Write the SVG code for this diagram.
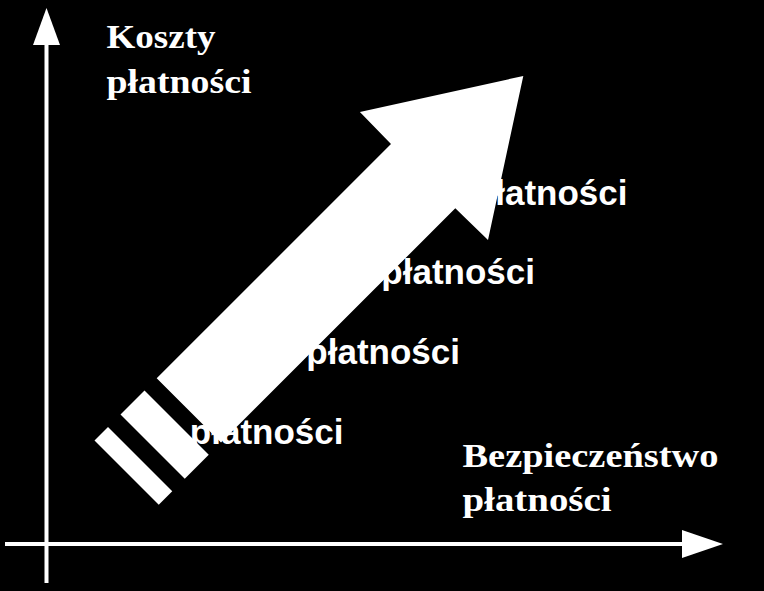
<svg xmlns="http://www.w3.org/2000/svg" width="764" height="591" viewBox="0 0 764 591">
<style>
.ax{stroke:#fff;stroke-width:4;fill:none}
.head{fill:#fff}
.serif{font-family:"Liberation Serif","Times New Roman",serif;font-weight:bold;font-size:34px;fill:#fff}
.sans{font-family:"Liberation Sans",Arial,sans-serif;font-weight:bold;font-size:35px;fill:#fff;text-anchor:end}
.shape{fill:#fff}
</style>
<rect x="0" y="0" width="764" height="591" fill="#000"/>
<g id="connectors">
  <g id="axis-y">
    <line class="ax" x1="46.5" y1="583" x2="46.5" y2="44"/>
    <polygon class="head" points="46.5,8 60,45 33,45"/>
  </g>
  <g id="axis-x">
    <line class="ax" x1="5" y1="544" x2="683" y2="544"/>
    <polygon class="head" points="723,544 682,530 682,558"/>
  </g>
</g>
<g id="label-koszty">
  <text class="serif" x="106.5" y="47.5" textLength="109" lengthAdjust="spacingAndGlyphs">Koszty</text>
  <text class="serif" x="106.5" y="93" textLength="145" lengthAdjust="spacingAndGlyphs">płatności</text>
</g>
<g id="label-bezpieczenstwo">
  <text class="serif" x="462.5" y="467" textLength="256" lengthAdjust="spacingAndGlyphs">Bezpieczeństwo</text>
  <text class="serif" x="462.5" y="511" textLength="149" lengthAdjust="spacingAndGlyphs">płatności</text>
</g>
<g id="level-1"><text class="sans" x="627.5" y="204.5">płatności</text></g>
<g id="level-2"><text class="sans" x="535" y="284">płatności</text></g>
<g id="level-3"><text class="sans" x="460" y="363.5">płatności</text></g>
<g id="level-4"><text class="sans" x="343.5" y="443.5">płatności</text></g>
<g id="big-arrow">
  <polygon class="shape" points="523.3,76 488,240 455.3,208.3 221,442.5 156.7,378.3 391,144 359.9,111.9"/>
  <polygon class="shape" points="144.5,390.5 120.5,414.5 184.75,478.75 208.75,454.75"/>
  <polygon class="shape" points="108,427 94.5,440.5 158.75,504.75 172.25,491.25"/>
</g>
</svg>
